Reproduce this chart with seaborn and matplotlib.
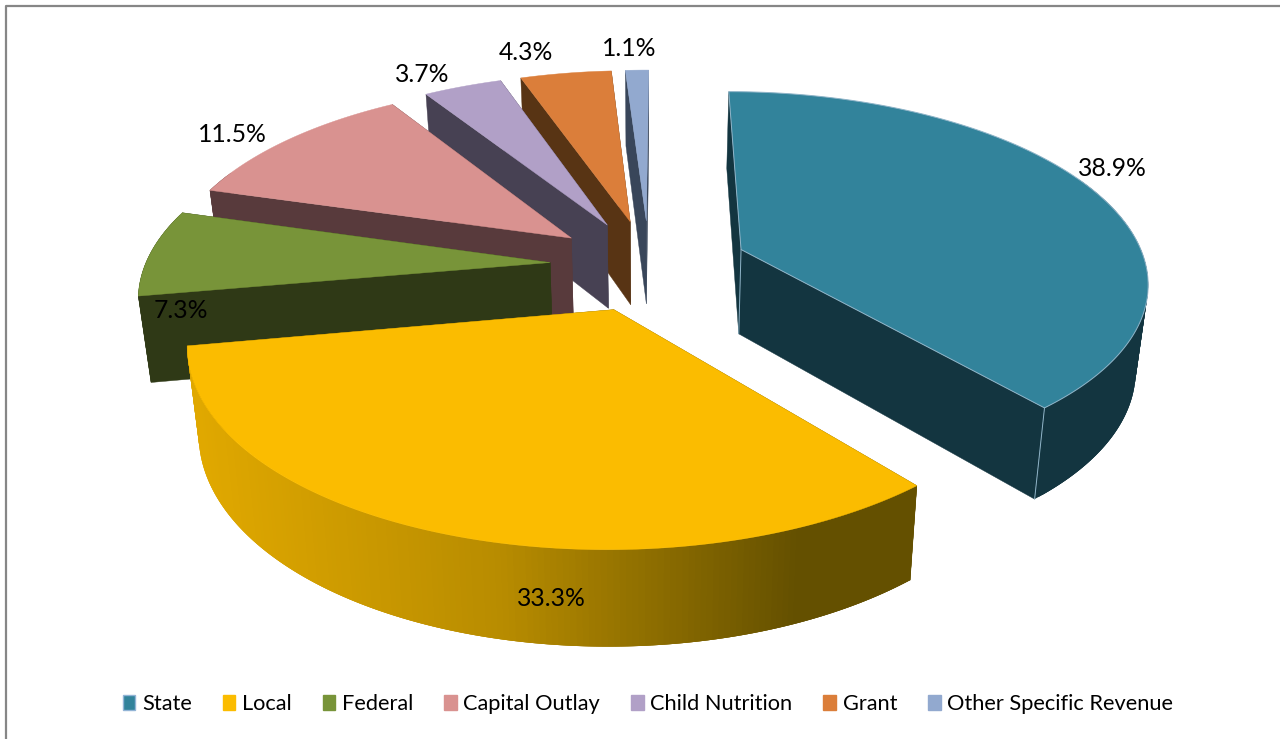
import matplotlib
matplotlib.use('Agg')
import matplotlib.pyplot as plt
from matplotlib.patches import Patch
import seaborn as sns
import numpy as np

# data
categories = ['State', 'Local', 'Federal', 'Capital Outlay', 'Child Nutrition', 'Grant', 'Other Specific Revenue']
shares = [38.9, 33.3, 7.3, 11.5, 3.7, 4.3, 1.1]
top_colors = ['#32839b', '#fbbc00', '#789439', '#d99290', '#b1a0c7', '#db7e3a', '#92a9cf']
wall_colors = ['#133540', '#645000', '#2f3916', '#583a3c', '#474153', '#583414', '#39465a']
label_pos = [(1112, 168), (551, 598), (181, 311), (232, 135), (422, 75), (526, 52), (629, 49)]

# projection of the tilted pie into figure pixels
CX, CY = 649, 265
RX, RY = 405, 187
PERSP = 0.156
EXPLODE = 0.245
DEPTH = 85


def top_point(x, back):
    f = -back
    d = 1 - PERSP * f
    return CX + RX * x / d, CY + RY * f / d


def low_point(x, back):
    sx, sy = top_point(x, back)
    return CX + (sx - CX) * 0.975, sy + DEPTH / (1 + 0.1 * back)


sns.set_theme(style='white')
plt.rcParams['font.family'] = ['Lato', 'DejaVu Sans']

fig = plt.figure(figsize=(12.8, 7.39), dpi=100)
ax = fig.add_axes([0, 0, 1, 1])
ax.set_xlim(0, 1280)
ax.set_ylim(739, 0)
ax.axis('off')

# frame, open on the right
ax.plot([6, 6, 1280], [739, 6, 6], color='#868686', lw=1.6)

edges = np.radians(np.concatenate([[0], np.cumsum(shares)]) * 3.6)
gradient = sns.blend_palette(['#e0a800', '#b88c00', '#645000'], 256)

# back slices first, Local on top of everything
order = [6, 5, 4, 3, 2, 0, 1]
for i in order:
    a0, a1 = edges[i], edges[i + 1]
    mid = (a0 + a1) / 2
    ox, oy = EXPLODE * np.sin(mid), EXPLODE * np.cos(mid)
    angles = np.linspace(a0, a1, max(int(shares[i] * 5), 8))
    rim_x = ox + np.sin(angles)
    rim_y = oy + np.cos(angles)
    wall = wall_colors[i]

    # radial walls
    for k in (0, -1):
        p = [top_point(ox, oy), top_point(rim_x[k], rim_y[k]),
             low_point(rim_x[k], rim_y[k]), low_point(ox, oy)]
        ax.fill(*zip(*p), color=wall, lw=0.3)

    # outer wall strip by strip, each one overlaps the next so no seams show;
    # the part behind the silhouette gets covered by the top face
    strips = list(np.where(np.cos(angles) < 0.4)[0][::-1])
    for j, j2 in zip(strips[:-1], strips[1:]):
        end = max(j2 - 2, 0)
        p = [top_point(rim_x[j], rim_y[j]), top_point(rim_x[end], rim_y[end]),
             low_point(rim_x[end], rim_y[end]), low_point(rim_x[j], rim_y[j])]
        c = wall
        if i == 1:
            t = np.clip((p[0][0] - 195) / 600, 0, 1)
            c = gradient[int(t * 255)]
        ax.fill(*zip(*p), color=c, lw=0)

    if i == 0:
        ax.plot(*zip(top_point(rim_x[-1], rim_y[-1]), low_point(rim_x[-1], rim_y[-1])),
                color='#8fb4c8', lw=0.7)
        ax.plot(*zip(top_point(ox, oy), low_point(ox, oy)), color='#8fb4c8', lw=0.7)

    # top face
    outline = [top_point(ox, oy)] + [top_point(x, y) for x, y in zip(rim_x, rim_y)]
    ax.fill(*zip(*outline), facecolor=top_colors[i],
            edgecolor='#8fb4c8' if i == 0 else top_colors[i], lw=0.7 if i == 0 else 0.3)

for share, (x, y) in zip(shares, label_pos):
    ax.text(x, y, f'{share:.1f}%', ha='center', va='center', fontsize=17.8, color='black')

handles = [Patch(facecolor=c, edgecolor='#92b4d6' if n == 0 else c, lw=1) for n, c in enumerate(top_colors)]
ax.legend(handles, categories, ncol=7, loc='center', bbox_to_anchor=(648 / 1280, 1 - 704 / 739),
          frameon=False, fontsize=15.7, handlelength=0.58, handleheight=0.72,
          handletextpad=0.3, columnspacing=1.42, labelcolor='black')

fig.savefig('out.png', dpi=100)
